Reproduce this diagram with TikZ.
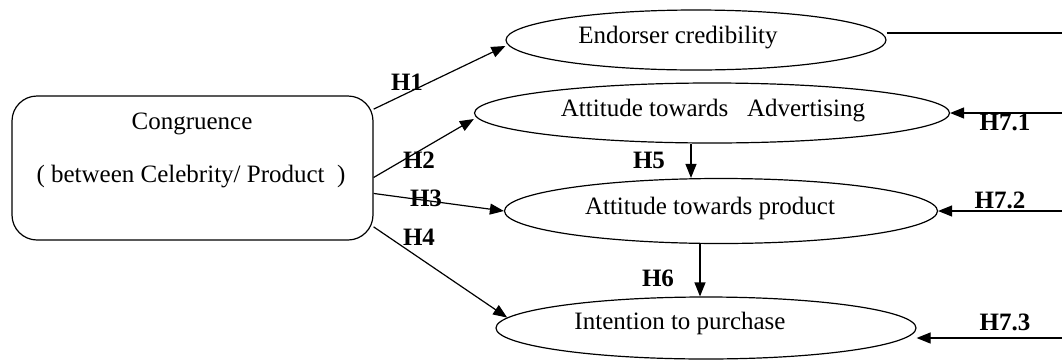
\documentclass[tikz,border=0pt]{standalone}
\usepackage{fontspec}
\setmainfont{Liberation Serif}
\usetikzlibrary{shapes.geometric,arrows.meta}

\tikzset{
  construct/.style={draw=black, ellipse, inner sep=0pt, line width=0.6pt},
  congbox/.style={draw=black, rounded corners=12.5pt, line width=0.6pt, minimum width=180.5pt, minimum height=72pt},
  ctext/.style={font=\fontsize{12.5}{15}\selectfont, inner sep=0pt},
  hlabel/.style={font=\fontsize{12.5}{15}\selectfont\bfseries, inner sep=0pt},
  link/.style={draw=black, line width=0.6pt, -{Triangle[length=7pt,width=5.5pt]}},
  plain/.style={draw=black, line width=0.6pt},
}

\begin{document}
\begin{tikzpicture}[x=0.5pt, y=-0.5pt]
\useasboundingbox (0,0) rectangle (1062,360);

\node[congbox] (cong) at (192.5,168) {};
\node[ctext] (congtitle) at (192,124) {Congruence};
\node[ctext] (congsub) at (191,177) {( between Celebrity/ Product~ )};


\node[construct, minimum width=190pt, minimum height=30pt] (endorser) at (696,40) {};
\node[ctext] (endorsertxt) at (678,38) {Endorser credibility};

\node[construct, minimum width=237.5pt, minimum height=30pt] (attad) at (712,113) {};
\node[ctext] (attadtxt) at (713,111) {Attitude towards\ \ \ Advertising};

\node[construct, minimum width=216.5pt, minimum height=32.5pt] (attprod) at (721,211) {};
\node[ctext] (attprodtxt) at (710,208) {Attitude towards product};

\node[construct, minimum width=210pt, minimum height=31pt] (intent) at (706,328) {};
\node[ctext] (intenttxt) at (680,323) {Intention to purchase};


\coordinate (rt) at (1062,0);
\coordinate (hfive) at (691,0);
\coordinate (hsix) at (700,0);

\draw[link] (cong.18) -- ([yshift=-3pt]endorser.west);
\draw[link] (cong.-3) -- ([yshift=-3pt]attad.west);
\draw[link] (cong.-8.5) -- (attprod.west);
\draw[link] (cong.-18) -- (intent.177);

\draw[link] (attad.south -| hfive) -- (attprod.north -| hfive);
\draw[link] (attprod.south -| hsix) -- (intent.north -| hsix);

\draw[plain] ([yshift=3.5pt]endorser.east) -- ([yshift=3.5pt]endorser.east -| rt);
\draw[link] (attad.east -| rt) -- (attad.east);
\draw[link] (attprod.east -| rt) -- (attprod.east);
\draw[link] ([yshift=-5pt]intent.east -| rt) -- ([yshift=-5pt]intent.east);


\node[hlabel] (hone) at (407,82) {H1};
\node[hlabel] (htwo) at (419,160) {H2};
\node[hlabel] (hthree) at (426,198) {H3};
\node[hlabel] (hfour) at (419,237) {H4};
\node[hlabel] (hfivelbl) at (649,160) {H5};
\node[hlabel] (hsixlbl) at (658,278) {H6};
\node[hlabel] (hsevenone) at (1005,122) {H7.1};
\node[hlabel] (hseventwo) at (1000,200) {H7.2};
\node[hlabel] (hseventhree) at (1005,322) {H7.3};

\end{tikzpicture}
\end{document}
